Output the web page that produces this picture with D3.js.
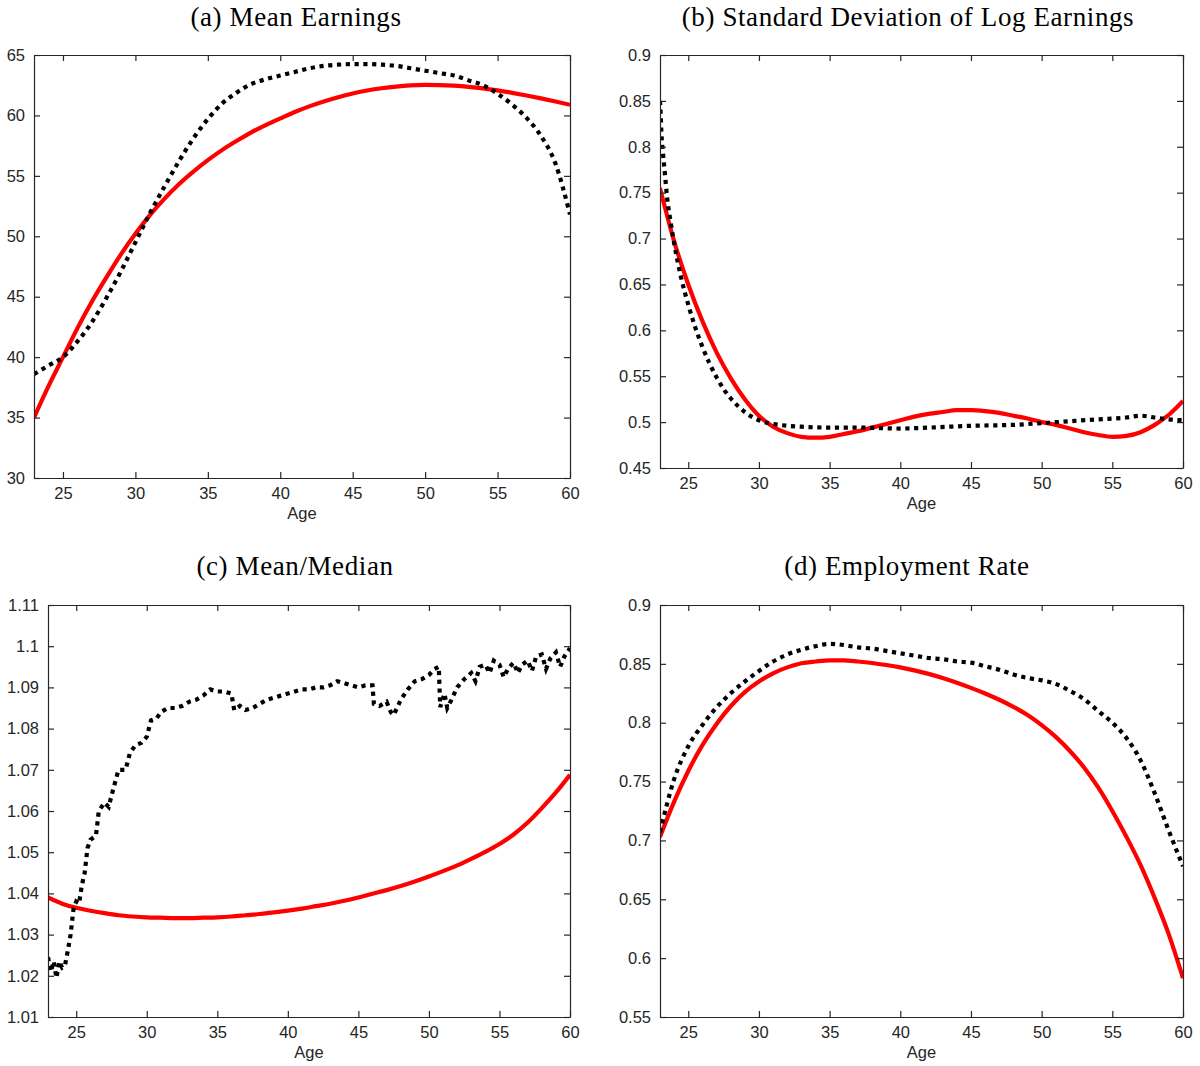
<!DOCTYPE html>
<html>
<head>
<meta charset="utf-8">
<script src="https://cdn.jsdelivr.net/npm/d3@7"></script>
<style>
  body { margin: 0; background: #fff; }
  svg { display: block; }
</style>
</head>
<body>
<svg id="fig" width="1200" height="1066"></svg>
<script>
// ages for the smooth model curves
const ages = [23,24,25,26,27,28,29,30,31,32,33,34,35,36,37,38,39,40,41,42,
  43,44,45,46,47,48,49,50,51,52,53,54,55,56,57,58,59,60];

// (a) mean earnings
const earnModel = [35.0,37.6,40.0,42.4,44.6,46.6,48.5,50.2,51.75,53.1,54.3,55.35,
  56.3,57.15,57.9,58.6,59.2,59.75,60.28,60.75,61.16,61.51,61.81,62.06,62.25,62.39,
  62.48,62.52,62.51,62.46,62.37,62.24,62.07,61.87,61.65,61.41,61.15,60.88];
const earnData = [38.6,39.3,40.0,41.3,42.9,44.9,47.1,49.5,51.9,54.1,56.2,58.1,59.7,
  61.0,61.9,62.6,63.0,63.3,63.6,63.9,64.1,64.2,64.25,64.25,64.2,64.1,63.9,63.7,
  63.5,63.3,62.9,62.5,61.8,60.9,59.8,58.3,56.0,51.8];

// (b) standard deviation of log earnings
const sdModel = [0.755,0.697,0.650,0.610,0.576,0.548,0.525,0.507,0.495,0.488,0.484,
  0.483,0.484,0.487,0.490,0.494,0.498,0.502,0.506,0.509,0.511,0.513,0.513,0.512,
  0.510,0.507,0.504,0.500,0.497,0.493,0.489,0.486,0.484,0.485,0.489,0.497,0.508,0.523];
const sdDataAges = [23,23.05,23.1,23.2,23.35,23.5,23.75,24,24.5,25,25.5,26,26.5,27,
  27.5,28,29,30,31,32,33,35,37,40,42,45,48,50,52,54,56,57,58,59,60];
const sdData = [0.85,0.835,0.815,0.795,0.77,0.745,0.718,0.695,0.657,0.628,0.603,0.582,
  0.564,0.549,0.536,0.526,0.511,0.502,0.498,0.496,0.495,0.494,0.494,0.493,0.494,
  0.496,0.497,0.499,0.501,0.503,0.505,0.507,0.505,0.503,0.502];

// (c) mean/median
const ratioModel = [1.0390,1.0375,1.0365,1.0358,1.0352,1.0347,1.0344,1.0342,1.0341,
  1.0340,1.0340,1.0341,1.0342,1.0344,1.0347,1.0350,1.0354,1.0358,1.0363,1.0369,
  1.0375,1.0382,1.0390,1.0399,1.0408,1.0418,1.0429,1.0441,1.0454,1.0468,1.0484,
  1.0501,1.0520,1.0543,1.0572,1.0607,1.0645,1.0688];
const ratioDataAges = [23.0,23.2,23.4,23.6,23.8,24.0,24.2,24.4,24.6,24.8,25.0,25.2,
  25.4,25.6,25.8,26.0,26.4,26.6,27.0,27.3,27.6,28.0,28.5,28.8,29.2,29.6,30.0,30.3,
  30.7,31.0,31.5,32.0,32.5,33.0,33.5,34.0,34.5,35.0,35.5,36.0,36.2,36.6,37.0,37.5,
  38.0,38.5,39.0,39.5,40.0,40.5,41.0,41.5,42.0,42.5,43.0,43.5,44.0,44.5,45.0,45.5,
  46.0,46.1,46.5,47.0,47.3,47.5,47.8,48.0,48.5,49.0,49.5,50.0,50.4,50.7,50.8,51.1,
  51.3,51.6,52.0,52.5,53.0,53.3,53.6,54.0,54.3,54.6,55.0,55.3,55.6,56.0,56.3,56.6,
  57.0,57.3,57.6,58.0,58.3,58.6,59.0,59.3,59.6,60.0];
const ratioData = [1.0245,1.0210,1.0235,1.0195,1.0235,1.0220,1.0225,1.0260,1.0300,
  1.0360,1.0380,1.0375,1.0420,1.0450,1.0510,1.0530,1.0540,1.0600,1.0620,1.0610,
  1.0650,1.0700,1.0700,1.0740,1.0760,1.0765,1.0780,1.0820,1.0825,1.0840,1.0850,
  1.0850,1.0855,1.0865,1.0870,1.0880,1.0895,1.0890,1.0890,1.0885,1.0845,1.0855,
  1.0845,1.0850,1.0860,1.0870,1.0875,1.0880,1.0885,1.0890,1.0895,1.0895,1.0900,
  1.0900,1.0905,1.0915,1.0910,1.0905,1.0900,1.0905,1.0905,1.0860,1.0855,1.0865,
  1.0840,1.0833,1.0855,1.0870,1.0895,1.0915,1.0920,1.0930,1.0945,1.0950,1.0852,
  1.0885,1.0850,1.0870,1.0900,1.0920,1.0935,1.0915,1.0950,1.0955,1.0935,1.0965,
  1.0955,1.0925,1.0945,1.0960,1.0935,1.0955,1.0965,1.0940,1.0975,1.0980,1.0945,
  1.0970,1.0985,1.0950,1.0975,1.0995];

// (d) employment rate
const empModel = [0.703,0.733,0.759,0.781,0.799,0.814,0.826,0.835,0.842,0.847,0.8505,
  0.852,0.853,0.853,0.852,0.8507,0.849,0.847,0.8445,0.8415,0.838,0.834,0.8296,0.8248,
  0.8195,0.8135,0.8065,0.798,0.788,0.776,0.762,0.745,0.725,0.703,0.679,0.651,0.620,0.583];
const empData = [0.707,0.752,0.780,0.798,0.813,0.825,0.835,0.844,0.852,0.858,0.862,
  0.865,0.867,0.866,0.864,0.863,0.861,0.859,0.857,0.855,0.854,0.852,0.851,0.848,
  0.845,0.841,0.838,0.836,0.833,0.827,0.820,0.810,0.800,0.787,0.768,0.740,0.708,0.678];

const xTicks = [25,30,35,40,45,50,55,60];
const yTicksA = [30,35,40,45,50,55,60,65];
const yTicksB = [0.45,0.5,0.55,0.6,0.65,0.7,0.75,0.8,0.85,0.9];
const yTicksC = [1.01,1.02,1.03,1.04,1.05,1.06,1.07,1.08,1.09,1.1,1.11];
const yTicksD = [0.55,0.6,0.65,0.7,0.75,0.8,0.85,0.9];

const panels = [
  { title: "(a) Mean Earnings", titleX: 296, titleY: 26,
    box: [34, 570, 55, 478], yDomain: [30, 65], yTicks: yTicksA,
    model: [ages, earnModel], data: [ages, earnData], curve: d3.curveMonotoneX },
  { title: "(b) Standard Deviation of Log Earnings", titleX: 908, titleY: 26,
    box: [660, 1183, 55, 468], yDomain: [0.45, 0.9], yTicks: yTicksB,
    model: [ages, sdModel], data: [sdDataAges, sdData], curve: d3.curveMonotoneX },
  { title: "(c) Mean/Median", titleX: 295, titleY: 575,
    box: [48, 570, 605, 1017], yDomain: [1.01, 1.11], yTicks: yTicksC,
    model: [ages, ratioModel], data: [ratioDataAges, ratioData], curve: d3.curveLinear },
  { title: "(d) Employment Rate", titleX: 907, titleY: 575,
    box: [660, 1183, 605, 1017], yDomain: [0.55, 0.9], yTicks: yTicksD,
    model: [ages, empModel], data: [ages, empData], curve: d3.curveMonotoneX }
];

const svg = d3.select("#fig");
const axisColor = "#262626";

panels.forEach((p, i) => {
  const [x0, x1, y0, y1] = p.box;
  const x = d3.scaleLinear().domain([23, 60]).range([x0, x1]);
  const y = d3.scaleLinear().domain(p.yDomain).range([y1, y0]);
  const g = svg.append("g");

  svg.append("clipPath").attr("id", "clip" + i)
    .append("rect").attr("x", x0).attr("y", y0)
    .attr("width", x1 - x0).attr("height", y1 - y0);

  const line = (xs, ys, curve) => d3.line()
    .x(d => x(xs[d]))
    .y(d => y(ys[d]))
    .curve(curve)(d3.range(xs.length));

  g.append("path")
    .attr("clip-path", `url(#clip${i})`)
    .attr("d", line(p.model[0], p.model[1], d3.curveMonotoneX))
    .attr("fill", "none")
    .attr("stroke", "#ff0000")
    .attr("stroke-width", 4.2);

  g.append("path")
    .attr("clip-path", `url(#clip${i})`)
    .attr("d", line(p.data[0], p.data[1], p.curve))
    .attr("fill", "none")
    .attr("stroke", "#000")
    .attr("stroke-width", 4.2)
    .attr("stroke-dasharray", "4.2,4.6");

  // axes: bottom / left with labels, top / right ticks only, all inward
  const fmt = d => String(d);
  const bottom = g.append("g").attr("transform", `translate(0,${y1})`)
    .call(d3.axisBottom(x).tickValues(xTicks).tickFormat(fmt).tickSizeInner(-6).tickSizeOuter(0).tickPadding(9));
  const top = g.append("g").attr("transform", `translate(0,${y0})`)
    .call(d3.axisTop(x).tickValues(xTicks).tickFormat("").tickSizeInner(-6).tickSizeOuter(0));
  const left = g.append("g").attr("transform", `translate(${x0},0)`)
    .call(d3.axisLeft(y).tickValues(p.yTicks).tickFormat(fmt).tickSizeInner(-6).tickSizeOuter(0).tickPadding(9));
  const right = g.append("g").attr("transform", `translate(${x1},0)`)
    .call(d3.axisRight(y).tickValues(p.yTicks).tickFormat("").tickSizeInner(-6).tickSizeOuter(0));

  [bottom, top, left, right].forEach(a => {
    a.select(".domain").attr("stroke", axisColor).attr("stroke-width", 1.2);
    a.selectAll(".tick line").attr("stroke", axisColor).attr("stroke-width", 1.2);
    a.selectAll(".tick text")
      .attr("fill", axisColor)
      .style("font-family", "'Liberation Sans', Arial, sans-serif")
      .style("font-size", "16.5px");
  });

  g.append("text")
    .attr("x", (x0 + x1) / 2)
    .attr("y", y1 + 41)
    .attr("text-anchor", "middle")
    .attr("fill", axisColor)
    .style("font-family", "'Liberation Sans', Arial, sans-serif")
    .style("font-size", "16.5px")
    .text("Age");

  svg.append("text")
    .attr("x", p.titleX)
    .attr("y", p.titleY)
    .attr("text-anchor", "middle")
    .attr("fill", "#000")
    .style("font-family", "'Liberation Serif', 'Times New Roman', serif")
    .style("font-size", "27px")
    .style("letter-spacing", "0.6px")
    .text(p.title);
});
</script>
</body>
</html>
